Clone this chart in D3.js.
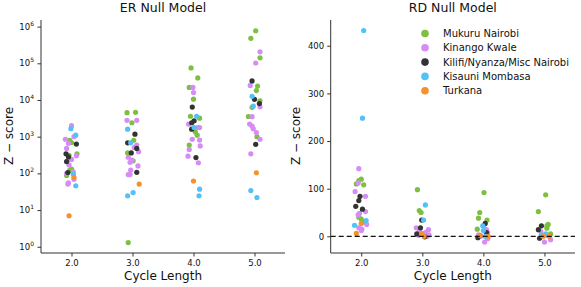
<!DOCTYPE html>
<html>
<head>
<meta charset="utf-8">
<script src="https://cdn.jsdelivr.net/npm/d3@7"></script>
<style>
  body { margin: 0; background: #fff; }
  text { font-family: "DejaVu Sans", sans-serif; fill: #111; }
</style>
</head>
<body>
<svg id="chart" width="581" height="287"></svg>
<script>
const cycles = ["2.0", "3.0", "4.0", "5.0"];
const regions = ["Mukuru Nairobi", "Kinango Kwale", "Kilifi/Nyanza/Misc Nairobi", "Kisauni Mombasa", "Turkana"];
const regionColors = ["#7dbf3f", "#d58cf6", "#333333", "#52c2f6", "#f6902a"];
const erTicks = [0, 1, 2, 3, 4, 5, 6];
const rdTicks = [0, 100, 200, 300, 400];

// points: [cycle index, jitter, z-score]
const erMukuru = [
  [0,-0.03,800],[0,0,690],[0,-0.04,310],[0,0.09,340],[0,-0.03,120],[0,0,130],[0,-0.08,88],
  [1,-0.09,4500],[1,0.05,4600],[1,-0.01,2400],[1,0.02,800],[1,-0.08,360],[1,0.01,220],[1,-0.07,1.3],
  [2,-0.04,75000],[2,0.07,40000],[2,-0.07,22000],[2,0,10500],[2,-0.05,3600],[2,0.1,3200],[2,0.03,1350],[2,0.06,1100],[2,-0.07,590],
  [3,0.02,770000],[3,-0.06,480000],[3,0.09,141000],[3,0.05,24000],[3,0.03,18000],[3,0.09,9500],[3,-0.04,6300],[3,-0.1,3550],[3,0.04,1000]
];
const erKinango = [
  [0,0,2000],[0,0.04,1000],[0,-0.1,850],[0,-0.05,660],[0,-0.08,480],[0,0.08,300],[0,0,240],[0,-0.08,210],[0,-0.04,170],[0,-0.08,100],[0,0.03,110],[0,0.04,69],[0,-0.05,55],[0,-0.06,51],
  [1,-0.09,2800],[1,0.07,2800],[1,0.07,590],[1,0.03,510],[1,0.1,390],[1,-0.07,275],[1,-0.04,200],[1,-0.01,230],[1,0.09,160],[1,-0.03,123],[1,-0.07,93],[1,-0.04,93],
  [2,-0.01,22000],[2,0,16000],[2,-0.08,2200],[2,0.07,1780],[2,0.1,1780],[2,-0.02,850],[2,0.1,810],[2,0.11,560],[2,-0.07,450],[2,-0.09,295],[2,0.08,195],
  [3,0.09,205000],[3,0.02,102000],[3,-0.07,25000],[3,0.09,6500],[3,-0.04,3500],[3,-0.08,2200],[3,-0.04,1950],[3,-0.02,1650],[3,0.03,1300],[3,0.09,850],[3,-0.06,340]
];
const erKilifi = [
  [0,0.08,630],[0,-0.09,340],[0,-0.05,280],[0,-0.08,210],[0,-0.06,105],
  [1,0.04,1170],[1,-0.08,680],[1,0.07,480],[1,-0.02,360],[1,0.07,107],
  [2,-0.02,6400],[2,0.01,2700],[2,-0.03,2400],[2,-0.03,1600],[2,0.04,270],
  [3,-0.04,33000],[3,0,10400],[3,0.08,8000],[3,0.02,620]
];
const erKisauni = [
  [0,-0.01,1650],[0,0.07,1100],[0,0.03,94],[0,0.07,46],
  [1,-0.08,1600],[1,-0.03,680],[1,0.01,30],[1,-0.08,24.5],
  [2,0.05,3600],[2,0.01,1780],[2,0.1,37],[2,0.09,24.5],
  [3,-0.04,12600],[3,-0.02,6800],[3,-0.06,34],[3,0.04,22]
];
const erTurkana = [
  [0,0.04,78],[0,-0.04,7],
  [1,0.11,51],
  [2,0,62],
  [3,0.03,104]
];

const rdMukuru = [
  [0,-0.04,117],[0,0,120],[0,-0.08,110],[0,0.04,108],[0,-0.04,40],[0,0,36],[0,0.03,30],
  [1,-0.08,98],[1,-0.05,54],[1,-0.02,50],[1,-0.05,15],
  [2,0.01,92],[2,-0.06,50],[2,-0.08,38],[2,0.06,34],[2,-0.1,15],[2,0,22],
  [3,0.02,87],[3,-0.1,52],[3,0.06,25],[3,0.04,22],[3,0.1,5],[3,0.04,17]
];
const rdKinango = [
  [0,-0.04,142],[0,-0.05,112],[0,-0.1,94],[0,0.07,84],[0,0.07,52],[0,-0.03,48],[0,-0.05,45],[0,0.09,25],[0,-0.04,18],[0,0.01,15],[0,0,12],
  [1,-0.1,18],[1,0.1,14],[1,0.05,8],[1,0,5],[1,-0.06,2],[1,0.08,0],[1,-0.04,10],[1,0.11,3],
  [2,0.02,-12],[2,0.07,-5],[2,-0.08,3],[2,0.07,8],[2,0.05,14],[2,-0.04,0],
  [3,0,-12],[3,0.1,-7],[3,0.04,2],[3,-0.06,10]
];
const rdKilifi = [
  [0,-0.02,84],[0,-0.04,75],[0,-0.09,63],[0,0.02,57],
  [1,-0.01,34],[1,-0.03,18],[1,-0.09,5],[1,0.04,-1],
  [2,0.03,27],[2,-0.09,-3],[2,0.05,8],
  [3,-0.05,22],[3,-0.1,14],[3,-0.08,-4]
];
const rdKisauni = [
  [0,0.04,432],[0,0.02,248],[0,0.08,33],[0,-0.11,23],
  [1,0.05,66],[1,0.02,34],
  [2,-0.01,22],[2,0,12],[2,0.03,0],
  [3,0.02,5],[3,-0.05,3]
];
const rdTurkana = [
  [0,0,27],[0,-0.08,6],
  [1,-0.01,5],[1,0.03,0],
  [2,-0.05,2],[2,0.08,0],
  [3,-0.02,0],[3,0.08,0]
];

const erSeries = [erMukuru, erKinango, erKilifi, erKisauni, erTurkana];
const rdSeries = [rdMukuru, rdKinango, rdKilifi, rdKisauni, rdTurkana];

const svg = d3.select("#chart");
const plotTop = 20, plotBottom = 253;

function panel(left, right, yScale, series, title) {
  const g = svg.append("g");
  const x = d3.scaleLinear().domain([-0.5, cycles.length - 0.5]).range([left, right]);

  const xAxis = g.append("g").attr("transform", `translate(0,${plotBottom})`)
    .call(d3.axisBottom(x).tickValues(d3.range(cycles.length)).tickFormat(i => cycles[i]).tickSize(3.5).tickPadding(3));
  xAxis.select(".domain").attr("d", `M${left},0H${right}`);

  g.append("text").attr("x", (left + right) / 2).attr("y", 12)
    .attr("text-anchor", "middle").attr("font-size", 12.5).text(title);
  g.append("text").attr("x", (left + right) / 2).attr("y", 280)
    .attr("text-anchor", "middle").attr("font-size", 12).text("Cycle Length");

  // draw series in order so later regions sit on top
  series.forEach((pts, si) => {
    g.append("g").selectAll("circle").data(pts).join("circle")
      .attr("cx", d => x(d[0] + d[1]))
      .attr("cy", d => yScale(d[2]))
      .attr("r", 2.6)
      .attr("fill", regionColors[si]);
  });
  return { g, x };
}

// left: ER null model, log scale
const yEr = d3.scaleLog().domain([Math.pow(10, -0.17), Math.pow(10, 6.18)]).range([plotBottom, plotTop]);
const er = panel(41, 285, yEr, erSeries, "ER Null Model");
const yAxisEr = er.g.append("g").attr("transform", "translate(41,0)")
  .call(d3.axisLeft(yEr).tickValues(erTicks.map(p => Math.pow(10, p))).tickFormat("").tickSize(3.5));
yAxisEr.select(".domain").attr("d", `M0,${plotBottom}V${plotTop}`);
const lab = er.g.append("g").selectAll("text").data(erTicks).join("text")
  .attr("x", 34).attr("y", p => yEr(Math.pow(10, p)) + 3)
  .attr("text-anchor", "end").attr("font-size", 8.5);
lab.append("tspan").text("10");
lab.append("tspan").attr("dy", -4).attr("font-size", 6).text(p => p);
er.g.append("text").attr("transform", "translate(13,136) rotate(-90)")
  .attr("text-anchor", "middle").attr("font-size", 12).text("Z − score");

// right: RD null model, linear
const yRd = d3.scaleLinear().domain([-35, 454]).range([plotBottom, plotTop]);
const rd = panel(330.7, 575, yRd, rdSeries, "RD Null Model");
const yAxisRd = rd.g.append("g").attr("transform", "translate(330.7,0)")
  .call(d3.axisLeft(yRd).tickValues(rdTicks).tickSize(3.5).tickPadding(3));
yAxisRd.select(".domain").attr("d", `M0,${plotBottom}V${plotTop}`);
rd.g.append("line").attr("x1", 330.7).attr("x2", 575)
  .attr("y1", yRd(0)).attr("y2", yRd(0))
  .attr("stroke", "#111").attr("stroke-width", 1.3).attr("stroke-dasharray", "5,3");
rd.g.append("text").attr("transform", "translate(300,136) rotate(-90)")
  .attr("text-anchor", "middle").attr("font-size", 12).text("Z − score");

svg.selectAll(".tick text").attr("font-size", 8.5).attr("font-family", "DejaVu Sans").attr("fill", "#111");
svg.selectAll(".tick line, .domain").attr("stroke", "#333");

// legend
const legend = svg.append("g").attr("transform", "translate(425,33.5)");
regions.forEach((r, i) => {
  const row = legend.append("g").attr("transform", `translate(0,${i * 14.3})`);
  row.append("circle").attr("r", 3.8).attr("fill", regionColors[i]);
  row.append("text").attr("x", 18).attr("y", 3.5).attr("font-size", 10).text(r);
});
</script>
</body>
</html>
